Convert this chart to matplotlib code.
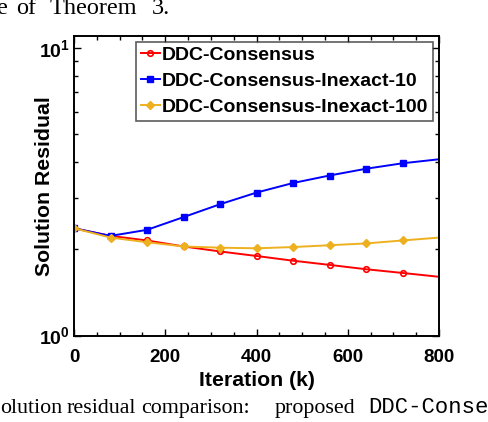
import matplotlib
matplotlib.use("Agg")
import matplotlib.pyplot as plt
from matplotlib.ticker import FixedLocator, MultipleLocator, NullFormatter

plt.rcParams['font.family'] = ['Liberation Sans', 'DejaVu Sans']
plt.rcParams['mathtext.fontset'] = 'custom'
plt.rcParams['mathtext.rm'] = 'Liberation Sans'
plt.rcParams['mathtext.bf'] = 'Liberation Sans:bold'

iterations = [0, 80, 160, 240, 320, 400, 480, 560, 640, 720, 800]
ddc = [2.36, 2.22, 2.14, 2.04, 1.96, 1.89, 1.82, 1.76, 1.70, 1.65, 1.60]
inexact10 = [2.36, 2.22, 2.33, 2.58, 2.86, 3.14, 3.39, 3.60, 3.80, 3.97, 4.10]
inexact100 = [2.36, 2.19, 2.11, 2.04, 2.02, 2.01, 2.03, 2.06, 2.09, 2.14, 2.19]
labels = ['DDC-Consensus', 'DDC-Consensus-Inexact-10', 'DDC-Consensus-Inexact-100']
xticks = [0, 200, 400, 600, 800]
ylim = (1, 11)

fig = plt.figure(figsize=(4.88, 4.22), dpi=100)
ax = fig.add_axes([74/488, 1-335.5/422, (439-74)/488, (335.5-36)/422])

mk = list(range(len(iterations) - 1))
ax.plot(iterations, ddc, color='#ff0000', lw=1.4, marker='o', ms=4, mfc='none',
        mew=1.2, markevery=mk, label=labels[0])
ax.plot(iterations, inexact10, color='#0000ff', lw=1.4, marker='s', ms=4,
        mew=1.0, markevery=mk, label=labels[1])
ax.plot(iterations, inexact100, color='#EDB120', lw=1.4, marker='D', ms=3.8,
        mew=1.0, markevery=mk, label=labels[2])

ax.set_yscale('log')
ax.set_ylim(*ylim)
ax.set_xlim(0, 800)
ax.set_xticks(xticks)
ax.set_xticklabels([str(v) for v in xticks], fontweight='bold', fontsize=13.5)
ax.xaxis.set_minor_locator(MultipleLocator(50))
ax.yaxis.set_major_locator(FixedLocator([1, 10]))
ax.set_yticks([1, 10])
ax.set_yticklabels([r'$\mathbf{10^{0}}$', r'$\mathbf{10^{1}}$'], fontsize=14)
ax.yaxis.set_minor_locator(FixedLocator([2, 3, 4, 5, 6, 7, 8, 9]))
ax.yaxis.set_minor_formatter(NullFormatter())

ax.tick_params(which='both', direction='in', top=True, right=True, width=1.0)
ax.tick_params(which='major', length=5)
ax.tick_params(which='minor', length=3)
ax.tick_params(axis='x', which='major', pad=10)
ax.tick_params(axis='y', which='major', pad=3)
for s in ax.spines.values():
    s.set_linewidth(1.4)

ax.set_xlabel('Iteration (k)', fontsize=15.3, fontweight='bold')
ax.xaxis.set_label_coords(0.5, -0.12)
ax.set_ylabel('Solution Residual', fontsize=15.3, fontweight='bold')
ax.yaxis.set_label_coords(-0.055, 0.5)

leg = ax.legend(loc='upper right', frameon=True, fancybox=False,
                edgecolor='#333333', borderaxespad=0.3, handlelength=1.0,
                handletextpad=0.1, labelspacing=0.42, borderpad=0.25,
                prop={'weight': 'bold', 'size': 14})
leg.get_frame().set_linewidth(1.2)

serif = ['Liberation Serif', 'DejaVu Serif']
mono = ['Liberation Mono', 'DejaVu Sans Mono']
ytop = 1 - 14/422
for word, px in [('e', -3), ('of', 16), ('Theorem', 50), ('3.', 152)]:
    fig.text(px/488, ytop, word, family=serif, fontsize=17.5, ha='left', va='baseline')
ybase = 1 - 413/422
for word, px in [('olution', 0), ('residual', 67), ('comparison:', 141), ('proposed', 275)]:
    fig.text(px/488, ybase, word, family=serif, fontsize=15.8, ha='left', va='baseline')
fig.text(368/488, ybase, 'DDC-Consensus', family=mono, fontsize=16,
         ha='left', va='baseline')

fig.savefig('out.png', dpi=100)
